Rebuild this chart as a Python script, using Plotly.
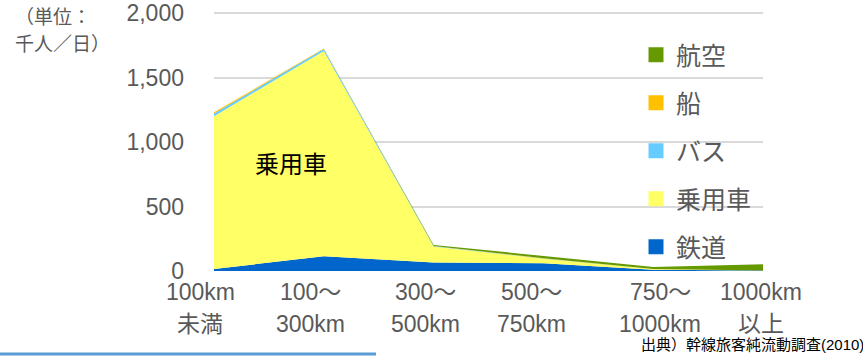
import plotly.graph_objects as go

categories_line1 = ["100km", "100～", "300～", "500～", "750～", "1000km"]
categories_line2 = ["未満", "300km", "500km", "750km", "1000km", "以上"]
rail = [15, 115, 65, 60, 10, 3]
car = [1185, 1590, 125, 35, 5, 0]
bus = [20, 15, 3, 2, 1, 0]
ship = [10, 5, 1, 1, 0, 0]
air = [0, 0, 8, 20, 15, 50]
y_ticks = [0, 500, 1000, 1500, 2000]
y_tick_labels = ["0", "500", "1,000", "1,500", "2,000"]

series = [
    ("鉄道", rail, "#0066cc"),
    ("乗用車", car, "#ffff66"),
    ("バス", bus, "#66ccff"),
    ("船", ship, "#ffc000"),
    ("航空", air, "#669900"),
]

# layout (pixel) settings
W_PX, H_PX = 863, 356
L, R, T, B = 214, 763, 6, 271
Y2000_PX = 13
SCALE = (B - Y2000_PX) / 2000.0
Y_MAX = 2000 + (Y2000_PX - T) / SCALE
PW, PH = R - L, B - T
label_xshift = [-14, -13, -8, -12, 7, -2]

def px_x(px):
    return (px - L) / PW

def px_y(py):
    return (B - py) / PH

FONT = "Liberation Sans, Noto Sans CJK JP"
GRAY = "#595959"

fig = go.Figure()
xs = list(range(len(categories_line1)))
for name, vals, color in series:
    fig.add_trace(go.Scatter(
        x=xs, y=vals, name=name, stackgroup="one", mode="lines",
        line=dict(width=0, color=color), fillcolor=color, showlegend=False,
    ))
# legend entries (square markers), top item first
for name, vals, color in reversed(series):
    fig.add_trace(go.Scatter(
        x=[None], y=[None], name=name, mode="markers",
        marker=dict(symbol="square", size=15, color=color),
        legendgroup=name, showlegend=True,
    ))

fig.update_layout(
    width=W_PX, height=H_PX,
    margin=dict(l=L, r=W_PX - R, t=T, b=H_PX - B, pad=0, autoexpand=False),
    paper_bgcolor="white", plot_bgcolor="white",
    font=dict(family=FONT, color=GRAY, size=22),
    xaxis=dict(
        range=[0, len(xs) - 1], tickmode="array", tickvals=xs, automargin=False,
        showticklabels=False, showgrid=False, zeroline=False, showline=False, ticks="",
    ),
    yaxis=dict(
        range=[0, Y_MAX], tickmode="array", tickvals=y_ticks, ticktext=y_tick_labels,
        automargin=False,
        showgrid=True, gridcolor="#d9d9d9", gridwidth=1.5, zeroline=False, showline=False,
        ticks="", ticklabelstandoff=29,
        tickfont=dict(size=23, color=GRAY, family=FONT),
    ),
    legend=dict(
        x=px_x(636), y=px_y(32), xanchor="left", yanchor="top",
        traceorder="grouped", tracegroupgap=12.5,
        font=dict(size=25, color=GRAY, family=FONT),
        bgcolor="rgba(0,0,0,0)", itemwidth=30,
    ),
    showlegend=True,
)

for i in xs:
    fig.add_annotation(
        x=i, y=px_y(292), xref="x", yref="paper", text=categories_line1[i],
        xshift=label_xshift[i], showarrow=False, xanchor="center", yanchor="middle",
        font=dict(size=23, color=GRAY, family=FONT),
    )
    fig.add_annotation(
        x=i, y=px_y(324), xref="x", yref="paper", text=categories_line2[i],
        xshift=label_xshift[i], showarrow=False, xanchor="center", yanchor="middle",
        font=dict(size=23, color=GRAY, family=FONT),
    )

fig.add_annotation(
    x=px_x(291), y=px_y(164), xref="paper", yref="paper", text="乗用車",
    showarrow=False, xanchor="center", yanchor="middle",
    font=dict(size=24, color="black", family=FONT),
)
fig.add_annotation(
    x=px_x(13), y=px_y(17), xref="paper", yref="paper", xanchor="left", yanchor="middle",
    text="（単位：", showarrow=False, align="left",
    font=dict(size=19, color=GRAY, family=FONT),
)
fig.add_annotation(
    x=px_x(13), y=px_y(45), xref="paper", yref="paper", xanchor="left", yanchor="middle",
    text="千人／日）", showarrow=False, align="left",
    font=dict(size=19, color=GRAY, family=FONT),
)
fig.add_annotation(
    x=px_x(639), y=px_y(344), xref="paper", yref="paper", xanchor="left", yanchor="middle",
    text="出典）幹線旅客純流動調査(2010)", showarrow=False,
    font=dict(size=15, color="black", family=FONT),
)
fig.add_shape(
    type="line", xref="paper", yref="paper",
    x0=px_x(0), x1=px_x(376), y0=px_y(354), y1=px_y(354),
    line=dict(color="#5b9bd5", width=3),
)

fig.write_html("out.html")
